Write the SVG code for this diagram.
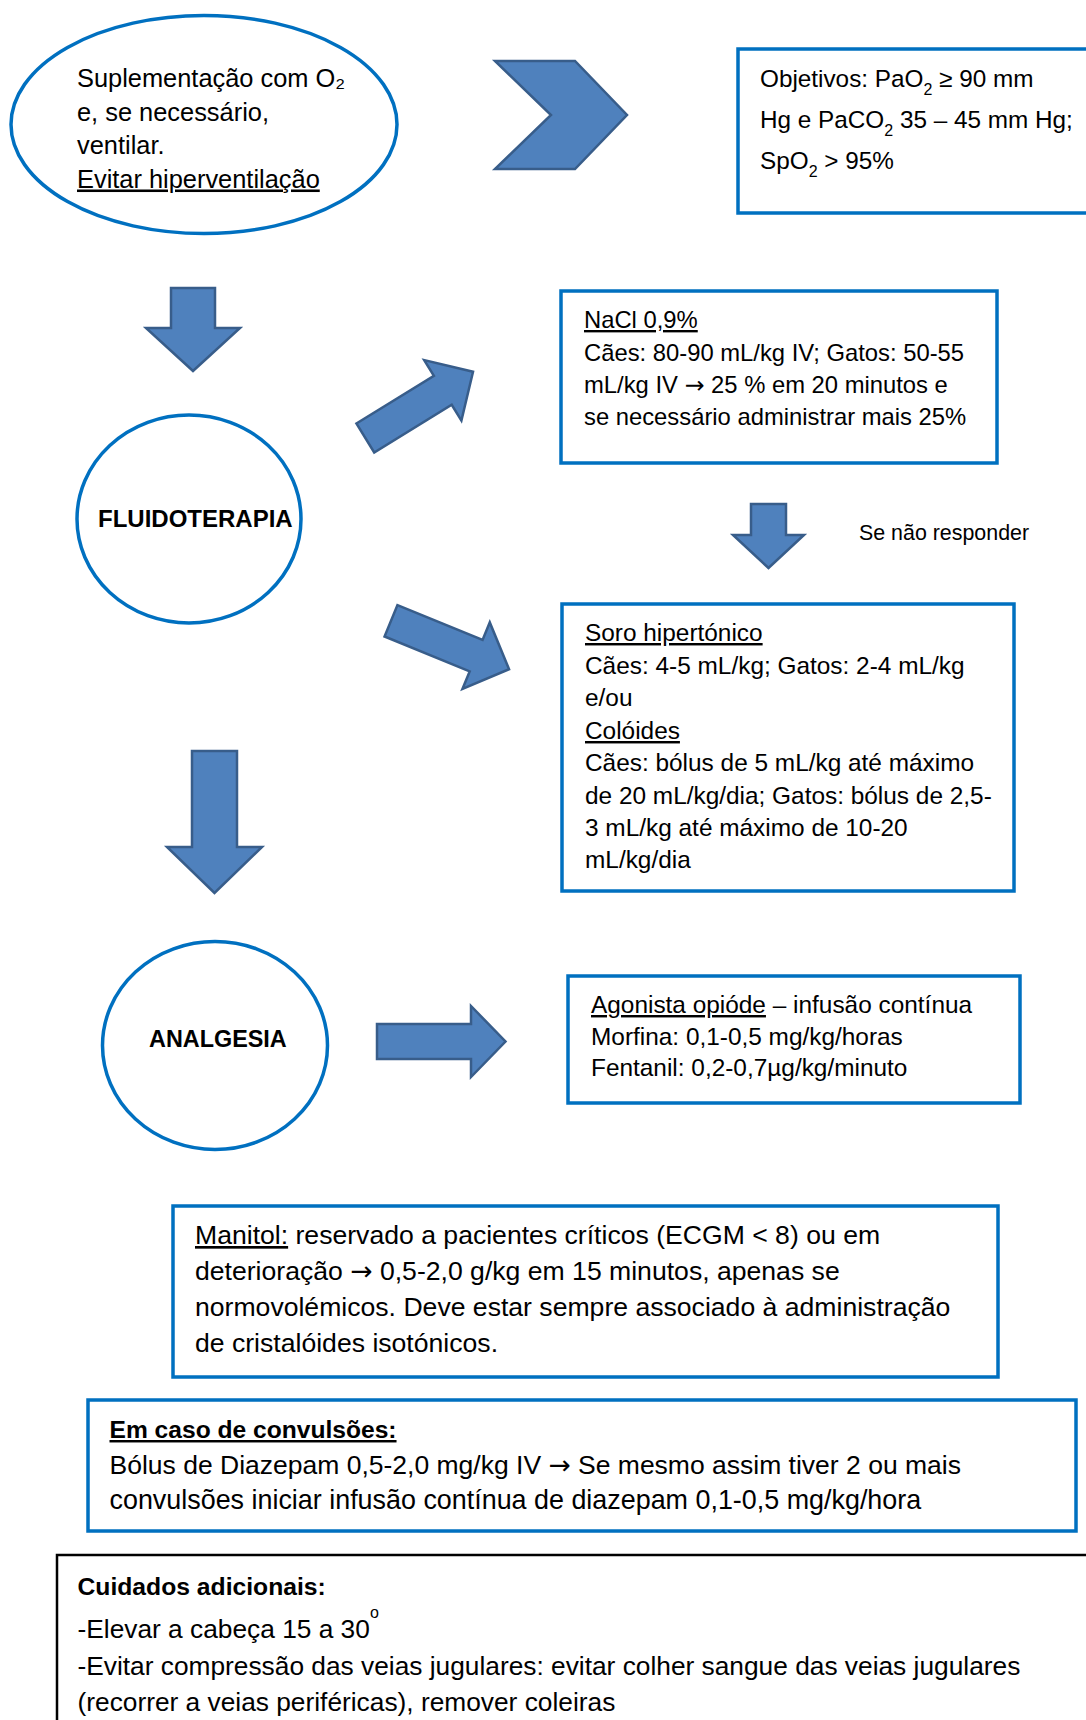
<svg xmlns="http://www.w3.org/2000/svg" width="1086" height="1720" viewBox="0 0 1086 1720">
<style>
.bx{fill:#fff;stroke:#0070C0;stroke-width:3.5}
.ar{fill:#4F81BD;stroke:#385D8A;stroke-width:2.5;stroke-linejoin:miter}
text{font-family:"Liberation Sans",Arial,sans-serif;fill:#000}
.u{text-decoration:underline}
.bd{font-weight:bold}
.arw{font-family:"DejaVu Sans",sans-serif}
</style>
<rect width="1086" height="1720" fill="#fff"/>
<g id="connectors">
<polygon class="ar" points="495,61 575,61 627,115 575,169 495,169 551,115"/>
<polygon class="ar" points="171,288 215,288 215,328 240,328 193,371 146,328 171,328"/>
<polygon class="ar" points="0,-17 91,-17 91,-35.5 126.5,0 91,35.5 91,17 0,17" transform="translate(365.3,438) rotate(-31.6)"/>
<polygon class="ar" points="0,-17 92,-17 92,-36 127.6,0 92,36 92,17 0,17" transform="translate(391,620.8) rotate(22.3)"/>
<polygon class="ar" points="751,504 786,504 786,535 804,535 768.5,568 733,535 751,535"/>
<polygon class="ar" points="192,751 237,751 237,847 262,847 214.5,893 167,847 192,847"/>
<polygon class="ar" points="377,1024 471,1024 471,1006 505.5,1041.5 471,1077 471,1059 377,1059"/>
<text x="859" y="540" font-size="21.4">Se não responder</text>
</g>
<g id="n-oxigenio">
<ellipse class="bx" cx="204" cy="124.5" rx="193" ry="109"/>
<g font-size="25.4">
<text x="77" y="87">Suplementação com O₂</text>
<text x="77" y="121">e, se necessário,</text>
<text x="77" y="154">ventilar.</text>
<text x="77" y="187.5" class="u">Evitar hiperventilação</text>
</g>
</g>
<g id="n-objetivos">
<rect class="bx" x="738" y="49" width="400" height="164"/>
<g font-size="24.3">
<text x="760" y="87">Objetivos: PaO<tspan font-size="16" dy="8">2</tspan><tspan dy="-8"> ≥ 90 mm</tspan></text>
<text x="760" y="128">Hg e PaCO<tspan font-size="16" dy="8">2</tspan><tspan dy="-8"> 35 – 45 mm Hg;</tspan></text>
<text x="760" y="169">SpO<tspan font-size="16" dy="8">2</tspan><tspan dy="-8"> &gt; 95%</tspan></text>
</g>
</g>
<g id="n-fluidoterapia">
<ellipse class="bx" cx="189" cy="519" rx="112" ry="104"/>
<text x="98" y="527" font-size="24" class="bd">FLUIDOTERAPIA</text>
</g>
<g id="n-nacl">
<rect class="bx" x="561" y="291" width="436" height="172"/>
<g font-size="23.8">
<text x="584" y="328" class="u">NaCl 0,9%</text>
<text x="584" y="360.5">Cães: 80-90 mL/kg IV; Gatos: 50-55</text>
<text x="584" y="393">mL/kg IV <tspan class="arw">→</tspan> 25 % em 20 minutos e</text>
<text x="584" y="425">se necessário administrar mais 25%</text>
</g>
</g>
<g id="n-soro">
<rect class="bx" x="562" y="604" width="452" height="287"/>
<g font-size="24.4">
<text x="585" y="641" class="u">Soro hipertónico</text>
<text x="585" y="674">Cães: 4-5 mL/kg; Gatos: 2-4 mL/kg</text>
<text x="585" y="706">e/ou</text>
<text x="585" y="739" class="u">Colóides</text>
<text x="585" y="771">Cães: bólus de 5 mL/kg até máximo</text>
<text x="585" y="804">de 20 mL/kg/dia; Gatos: bólus de 2,5-</text>
<text x="585" y="836">3 mL/kg até máximo de 10-20</text>
<text x="585" y="868">mL/kg/dia</text>
</g>
</g>
<g id="n-analgesia">
<ellipse class="bx" cx="215" cy="1045.5" rx="112.5" ry="104"/>
<text x="149" y="1047" font-size="23.4" class="bd">ANALGESIA</text>
</g>
<g id="n-opioide">
<rect class="bx" x="568" y="976" width="452" height="127"/>
<g font-size="24.4">
<text x="591" y="1013"><tspan class="u">Agonista opióde</tspan> – infusão contínua</text>
<text x="591" y="1045">Morfina: 0,1-0,5 mg/kg/horas</text>
<text x="591" y="1076">Fentanil: 0,2-0,7µg/kg/minuto</text>
</g>
</g>
<g id="n-manitol">
<rect class="bx" x="173" y="1206" width="825" height="171"/>
<g font-size="26.6">
<text x="195" y="1244"><tspan class="u">Manitol:</tspan> reservado a pacientes críticos (ECGM &lt; 8) ou em</text>
<text x="195" y="1280">deterioração <tspan class="arw">→</tspan> 0,5-2,0 g/kg em 15 minutos, apenas se</text>
<text x="195" y="1316">normovolémicos. Deve estar sempre associado à administração</text>
<text x="195" y="1352">de cristalóides isotónicos.</text>
</g>
</g>
<g id="n-convulsoes">
<rect class="bx" x="88" y="1400" width="988" height="131" stroke-width="4.5"/>
<g font-size="26.9">
<text x="109.5" y="1438" class="bd u" font-size="24.6">Em caso de convulsões:</text>
<text x="109.5" y="1474" font-size="26.5">Bólus de Diazepam 0,5-2,0 mg/kg IV <tspan class="arw">→</tspan> Se mesmo assim tiver 2 ou mais</text>
<text x="109.5" y="1509">convulsões iniciar infusão contínua de diazepam 0,1-0,5 mg/kg/hora</text>
</g>
</g>
<g id="n-cuidados">
<rect x="57" y="1555" width="1100" height="300" fill="#fff" stroke="#000" stroke-width="2.5"/>
<g font-size="26.3">
<text x="77.5" y="1595" class="bd" font-size="24.7">Cuidados adicionais:</text>
<text x="77.5" y="1638">-Elevar a cabeça 15 a 30<tspan font-size="16" dy="-20">o</tspan></text>
<text x="77.5" y="1675">-Evitar compressão das veias jugulares: evitar colher sangue das veias jugulares</text>
<text x="77.5" y="1711">(recorrer a veias periféricas), remover coleiras</text>
</g>
</g>
</svg>
